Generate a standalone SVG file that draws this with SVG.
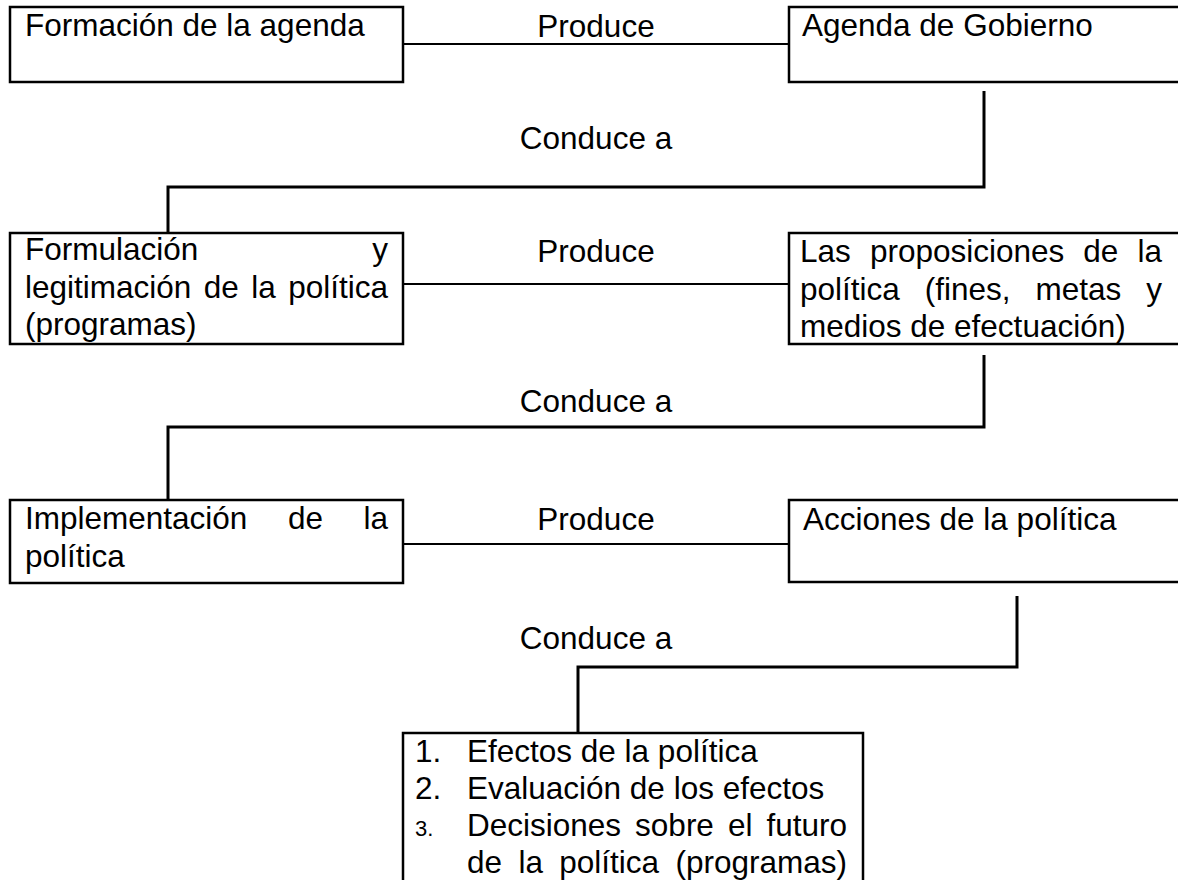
<svg xmlns="http://www.w3.org/2000/svg" width="1178" height="880" viewBox="0 0 1178 880">
<style>
  .box { fill: #ffffff; stroke: #000000; stroke-width: 2.5; }
  .t { font-family: "Liberation Sans", Arial, sans-serif; font-size: 31.5px; fill: #000000; }
  .e { text-anchor: end; }
  .m { text-anchor: middle; }
  .small { font-size: 22px; }
  .prod { fill: none; stroke: #000000; stroke-width: 2; }
  .cond { fill: none; stroke: #000000; stroke-width: 3; }
</style>
<rect width="1178" height="880" fill="#ffffff"/>
<g id="connectors">
  <line class="prod" x1="403" y1="44" x2="789" y2="44"/>
  <line class="prod" x1="403" y1="284" x2="789" y2="284"/>
  <line class="prod" x1="403" y1="544" x2="789" y2="544"/>
  <path class="cond" d="M984,91 V187 H168 V233"/>
  <path class="cond" d="M984,355 V427 H168 V500"/>
  <path class="cond" d="M1017,596 V667 H578 V738"/>
  <text class="t m" x="596" y="37">Produce</text>
  <text class="t m" x="596" y="262">Produce</text>
  <text class="t m" x="596" y="530">Produce</text>
  <text class="t m" x="596" y="149">Conduce a</text>
  <text class="t m" x="596" y="412">Conduce a</text>
  <text class="t m" x="596" y="649">Conduce a</text>
</g>
<g id="n1">
  <rect class="box" x="10" y="7" width="393" height="75"/>
  <text class="t" x="25" y="36">Formación de la agenda</text>
</g>
<g id="n2">
  <rect class="box" x="789" y="7" width="400" height="75"/>
  <text class="t" x="802" y="36">Agenda de Gobierno</text>
</g>
<g id="n3">
  <rect class="box" x="10" y="233" width="393" height="111"/>
  <text class="t" x="25" y="260">Formulación</text>
  <text class="t e" x="388" y="260">y</text>
  <text class="t" y="298"><tspan x="25">legitimación</tspan><tspan x="203.8">de</tspan><tspan x="251.3">la</tspan></text>
  <text class="t e" x="388" y="298">política</text>
  <text class="t" x="25" y="335">(programas)</text>
</g>
<g id="n4">
  <rect class="box" x="789" y="233" width="400" height="111"/>
  <text class="t" y="262"><tspan x="800">Las</tspan><tspan x="869.9">proposiciones</tspan><tspan x="1083.3">de</tspan></text>
  <text class="t e" x="1162" y="262">la</text>
  <text class="t" y="300"><tspan x="800">política</tspan><tspan x="924.8">(fines,</tspan><tspan x="1035.6">metas</tspan></text>
  <text class="t e" x="1162" y="300">y</text>
  <text class="t" x="800" y="337">medios de efectuación)</text>
</g>
<g id="n5">
  <rect class="box" x="10" y="500" width="393" height="83"/>
  <text class="t" y="529"><tspan x="25">Implementación</tspan><tspan x="287.9">de</tspan></text>
  <text class="t e" x="388" y="529">la</text>
  <text class="t" x="25" y="567">política</text>
</g>
<g id="n6">
  <rect class="box" x="789" y="500" width="400" height="82"/>
  <text class="t" x="803" y="530">Acciones de la política</text>
</g>
<g id="n7">
  <rect class="box" x="403" y="733" width="460" height="160"/>
  <text class="t" x="415" y="762">1.</text>
  <text class="t" x="467" y="762">Efectos de la política</text>
  <text class="t" x="415" y="799">2.</text>
  <text class="t" x="467" y="799">Evaluación de los efectos</text>
  <text class="t small" x="415" y="836">3.</text>
  <text class="t" y="836"><tspan x="467">Decisiones</tspan><tspan x="635.1">sobre</tspan><tspan x="728">el</tspan></text>
  <text class="t e" x="847" y="836">futuro</text>
  <text class="t" y="873"><tspan x="467">de</tspan><tspan x="518.4">la</tspan><tspan x="559.3">política</tspan></text>
  <text class="t e" x="847" y="873">(programas)</text>
</g>
</svg>
